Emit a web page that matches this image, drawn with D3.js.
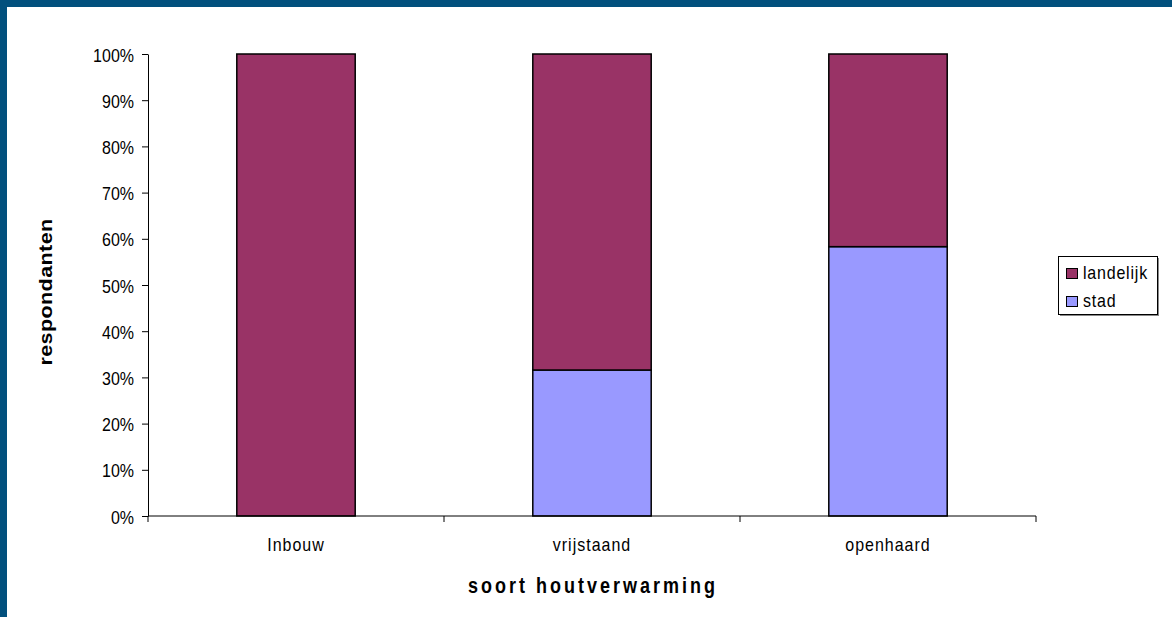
<!DOCTYPE html>
<html>
<head>
<meta charset="utf-8">
<script src="https://cdn.jsdelivr.net/npm/d3@7/dist/d3.min.js"></script>
<style>
  html, body { margin: 0; padding: 0; background: #fff; }
  svg { display: block; }
  text { font-family: "Liberation Sans", Arial, sans-serif; fill: #000; }
</style>
</head>
<body>
<svg id="chart" width="1172" height="617"></svg>
<script>
// Share of respondents per type of wood heating, split by area
const categories = ["Inbouw", "vrijstaand", "openhaard"];
const stad = [0, 31.6, 58.3];
const landelijk = [100, 68.4, 41.7];
const seriesNames = ["landelijk", "stad"];
const seriesColors = ["#993366", "#9999ff"];
const yTicks = [0, 10, 20, 30, 40, 50, 60, 70, 80, 90, 100];

const svg = d3.select("#chart");
const W = 1172, H = 617;
const stretch = 1.2; // glyphs are drawn taller than wide

// frame
svg.append("rect").attr("width", W).attr("height", H).attr("fill", "#fff");
svg.append("rect").attr("x", 0).attr("y", 0).attr("width", W).attr("height", 7).attr("fill", "#02507d");
svg.append("rect").attr("x", 0).attr("y", 0).attr("width", 7).attr("height", H).attr("fill", "#02507d");

const plot = { left: 148, right: 1036, top: 54, bottom: 516 };

const x = d3.scaleBand().domain(categories).range([plot.left, plot.right]).paddingInner(0.6).paddingOuter(0.3);
const xOuter = d3.scaleBand().domain(categories).range([plot.left, plot.right]).padding(0);
const y = d3.scaleLinear().domain([0, 100]).range([plot.bottom, plot.top]);

const rows = categories.map((c, i) => ({ cat: c, stad: stad[i], landelijk: landelijk[i] }));
const stack = d3.stack().keys(["stad", "landelijk"])(rows);
const color = d3.scaleOrdinal().domain(seriesNames).range(seriesColors);

// bars
svg.append("g").selectAll("g").data(stack).join("g")
  .attr("fill", d => color(d.key))
  .selectAll("rect").data(d => d.filter(p => p[1] - p[0] > 0)).join("rect")
  .attr("x", d => x(d.data.cat))
  .attr("width", x.bandwidth())
  .attr("y", d => y(d[1]))
  .attr("height", d => y(d[0]) - y(d[1]))
  .attr("stroke", "#000")
  .attr("stroke-width", 1.5);

// y axis
const yAxis = svg.append("g").attr("transform", `translate(${plot.left},0)`)
  .call(d3.axisLeft(y).tickValues(yTicks).tickSize(6).tickSizeOuter(0).tickFormat(d => d + "%"));
yAxis.select(".domain").attr("stroke", "#000");
yAxis.selectAll(".tick line").attr("stroke", "#000");
yAxis.selectAll(".tick text")
  .attr("x", null).attr("dy", null)
  .style("font-size", "16px")
  .attr("text-anchor", "end")
  .attr("transform", "translate(-14,7) scale(1," + stretch + ")");

// x axis: line with ticks at category boundaries
const xg = svg.append("g");
xg.append("line").attr("x1", plot.left).attr("x2", plot.right)
  .attr("y1", plot.bottom).attr("y2", plot.bottom).attr("stroke", "#000");
const bounds = categories.map(c => xOuter(c)).concat([plot.right]);
xg.selectAll("line.tk").data(bounds).join("line").attr("class", "tk")
  .attr("x1", d => d).attr("x2", d => d)
  .attr("y1", plot.bottom).attr("y2", plot.bottom + 6).attr("stroke", "#000");
xg.selectAll("text").data(categories).join("text")
  .attr("transform", d => `translate(${xOuter(d) + xOuter.bandwidth() / 2},551) scale(1,${stretch})`)
  .attr("text-anchor", "middle")
  .style("font-size", "16px")
  .style("letter-spacing", "1px")
  .text(d => d);

// axis titles
svg.append("text")
  .attr("transform", `translate(593,593) scale(1,${stretch})`)
  .attr("text-anchor", "middle")
  .style("font-size", "18px").style("font-weight", "bold").style("letter-spacing", "3px")
  .text("soort houtverwarming");
svg.append("text")
  .attr("transform", `translate(52,292) scale(1,${stretch}) rotate(-90)`)
  .attr("text-anchor", "middle")
  .style("font-size", "18px").style("font-weight", "bold").style("letter-spacing", "0.3px")
  .text("respondanten");

// legend
const lg = svg.append("g").attr("transform", "translate(1058,256)");
lg.append("rect").attr("x", 2).attr("y", 2).attr("width", 99).attr("height", 58).attr("fill", "#888");
lg.append("rect").attr("x", 0.5).attr("y", 0.5).attr("width", 99).attr("height", 58)
  .attr("fill", "#fff").attr("stroke", "#000");
const items = lg.selectAll("g.it").data(seriesNames).join("g").attr("class", "it")
  .attr("transform", (d, i) => `translate(0,${i * 28})`);
items.append("rect").attr("x", 8.5).attr("y", 12.5).attr("width", 11).attr("height", 10)
  .attr("fill", d => color(d)).attr("stroke", "#000");
items.append("text")
  .attr("transform", `translate(25,23) scale(1,${stretch})`)
  .style("font-size", "16px").style("letter-spacing", "0.8px")
  .text(d => d);
</script>
</body>
</html>
